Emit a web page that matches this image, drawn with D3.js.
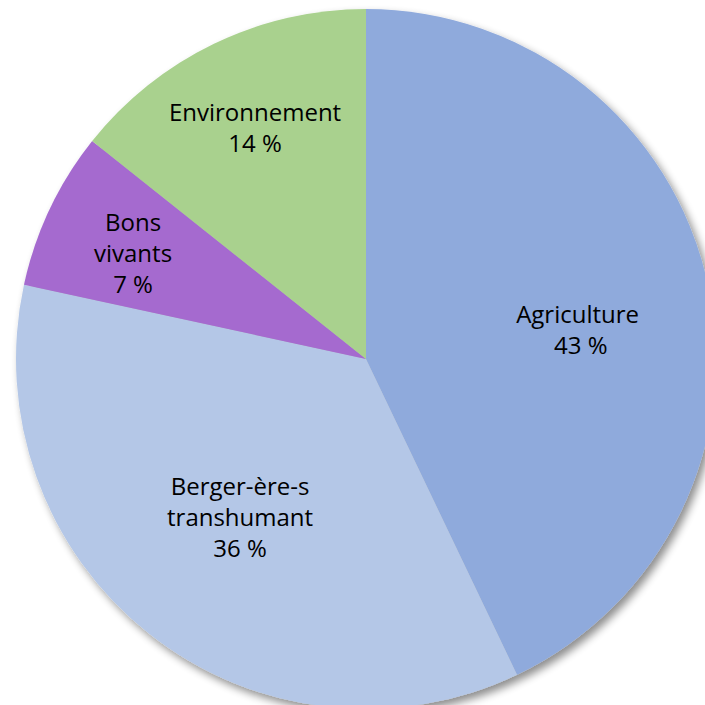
<!DOCTYPE html>
<html><head><meta charset="utf-8">
<script src="https://cdn.jsdelivr.net/npm/d3@7"></script>
<style>html,body{margin:0;padding:0;background:#fff;overflow:hidden}</style>
</head><body>
<svg id="c" width="705" height="705"></svg>
<script>
const categories = ["Agriculture", "Berger-ère-s transhumant", "Bons vivants", "Environnement"];
const nameLines = [["Agriculture"], ["Berger-ère-s", "transhumant"], ["Bons", "vivants"], ["Environnement"]];
const pctLabels = ["\u00a043 %", "36 %", "7 %", "14 %"];
const values = [42.9, 35.5, 7.3, 14.3];
const colors = ["#8FAADC", "#B4C7E7", "#A56BCF", "#A9D18E"];

const svg = d3.select("#c");
const cx = 366, cy = 359, R = 350;
const defs = svg.append("defs");
const f = defs.append("filter").attr("id","sh").attr("x","-20%").attr("y","-20%").attr("width","140%").attr("height","140%");
f.append("feGaussianBlur").attr("in","SourceAlpha").attr("stdDeviation",4);
f.append("feOffset").attr("dx",4).attr("dy",5).attr("result","ob");
f.append("feComponentTransfer").append("feFuncA").attr("type","linear").attr("slope",0.45);
const m = f.append("feMerge"); m.append("feMergeNode"); m.append("feMergeNode").attr("in","SourceGraphic");

const data = categories.map((c,i)=>({cat:c, value:values[i], lines:nameLines[i].concat([pctLabels[i]]), color:colors[i]}));
const pie = d3.pie().value(d=>d.value).sort(null);
const arcs = pie(data);
const arc = d3.arc().innerRadius(0).outerRadius(R);
const g = svg.append("g").attr("transform",`translate(${cx},${cy})`);
g.append("g").attr("filter","url(#sh)").selectAll("path").data(arcs).join("path")
  .attr("d",arc).attr("fill",d=>d.data.color);

const labelR = [0.61, 0.58, 0.73, 0.73];
const angleShift = [0.09, 0, -0.02, 0];
const lh = 31;
g.selectAll("text.lbl").data(arcs).join("text").attr("class","lbl")
  .attr("text-anchor","middle")
  .style("font-family","'Open Sans', sans-serif").style("font-size","24px").attr("fill","#000")
  .each(function(d,i){
    const a = (d.startAngle+d.endAngle)/2 + angleShift[i];
    const r = R*labelR[i];
    const x = Math.sin(a)*r, y = -Math.cos(a)*r;
    const n = d.data.lines.length;
    const t = d3.select(this);
    d.data.lines.forEach((ln,j)=>{
      t.append("tspan").attr("x",x).attr("y", y + (j-(n-1)/2)*lh + 8).text(ln);
    });
  });
</script>
</body></html>
